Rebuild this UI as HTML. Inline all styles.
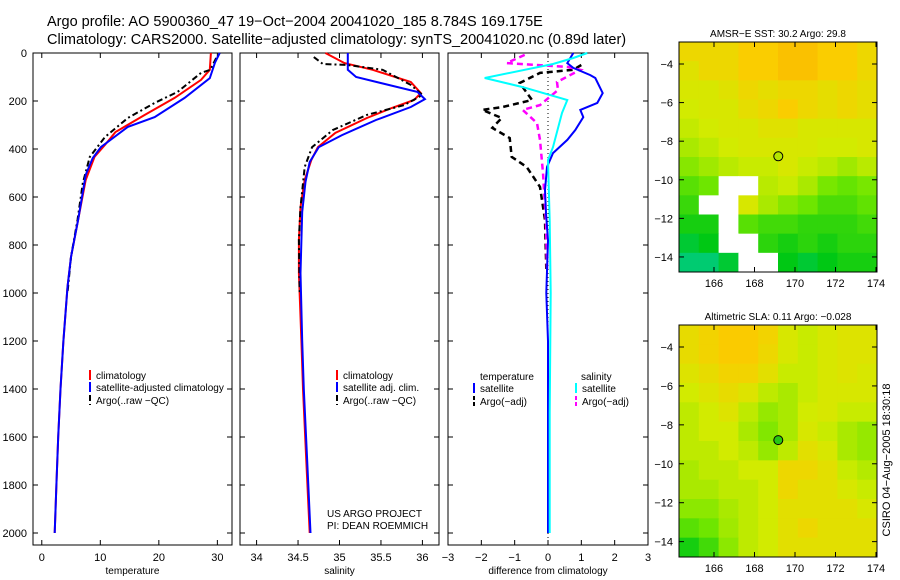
<!DOCTYPE html>
<html><head><meta charset="utf-8"><style>
body{margin:0;background:#fff;}
svg{display:block;font-family:"Liberation Sans",sans-serif;}
</style></head><body>
<svg id="c" width="900" height="580" xmlns="http://www.w3.org/2000/svg">
<rect width="900" height="580" fill="#fff"/>
<text x="47" y="26" font-size="14.5">Argo profile: AO 5900360_47 19−Oct−2004 20041020_185 8.784S 169.175E</text>
<text x="47" y="44" font-size="14.5">Climatology: CARS2000. Satellite−adjusted climatology: synTS_20041020.nc (0.89d later)</text>
<text x="890" y="460" font-size="11" transform="rotate(-90 890 460)" text-anchor="middle">CSIRO 04−Aug−2005 18:30:18</text>
<g id="plots"></g>
</svg>
<script>
// ---- data ----
const depthTicks=[0,200,400,600,800,1000,1200,1400,1600,1800,2000];
const tempTicks=[0,10,20,30];
const salTicks=[34,34.5,35,35.5,36];
const diffTicks=[-3,-2,-1,0,1,2,3];
// temperature
const tClimD=[0,70,112,187,258,329,383,433,529,696,850,975,1200,1400,1600,1800,2000];
const tClimV=[28.9,28.7,27.2,22.7,17.6,12.6,10.8,9.0,7.5,6.2,5.0,4.4,3.7,3.2,2.8,2.5,2.2];
const tSatD=[0,40,105,187,267,308,392,438,508,696,850,975,1200,1400,1600,1800,2000];
const tSatV=[30.4,29.6,28.7,24.4,19.3,14.7,10.1,8.7,7.5,6.2,5.0,4.4,3.7,3.2,2.8,2.5,2.2];
const tArgD=[21,70,83,162,208,271,350,433,542,696,850,1000];
const tArgV=[29.8,28.8,27.2,23.2,19.3,14.7,10.8,8.2,7.0,6.1,5.0,4.4];
// salinity
const sClimD=[0,42,70,121,167,196,229,271,333,392,446,529,642,779,917,1200,1400,1700,2000];
const sClimV=[34.83,35.06,35.4,35.86,35.98,35.9,35.63,35.33,34.95,34.74,34.66,34.58,34.53,34.51,34.51,34.54,34.56,34.6,34.64];
const sSatD=[0,70,100,162,192,225,279,342,392,454,537,662,917,1200,1400,1700,2000];
const sSatV=[35.1,35.1,35.2,35.94,36.03,35.86,35.44,35.03,34.75,34.64,34.59,34.55,34.53,34.55,34.57,34.61,34.65];
const sArgD=[17,46,50,70,133,175,217,258,321,392,475,642,779,1000];
const sArgV=[34.69,34.8,35.1,35.52,35.86,36.0,35.78,35.33,34.92,34.67,34.58,34.53,34.51,34.52];
// differences
const dTSatD=[0,42,62,92,104,167,208,237,267,321,362,417,475,571,667,779,1000,1200,1500,2000];
const dTSatV=[0.76,0.58,0.76,1.27,1.42,1.64,1.48,0.97,1.06,0.82,0.58,0.15,-0.03,-0.09,-0.06,0.0,-0.05,0.0,0.0,0.0];
const dSSatD=[0,21,46,104,142,196,250,392,446,700,1000,1500,2000];
const dSSatV=[1.18,0.76,0.15,-1.9,-0.76,0.58,0.42,0.15,0.0,0.05,0.08,0.05,0.05];
const dTArgD=[50,70,83,125,196,225,237,271,312,354,433,475,558,696,900];
const dTArgV=[1.0,0.76,-0.24,-0.85,-0.48,-1.36,-1.97,-1.39,-1.67,-1.15,-1.09,-0.64,-0.24,-0.09,-0.05];
const dSArgD=[8,42,58,70,121,154,217,237,292,362,500,708,900];
const dSArgV=[-0.7,-1.24,0.58,0.97,0.27,0.3,-0.24,-0.76,-0.33,-0.24,-0.15,-0.06,-0.03];
// maps (value 0..1 on colour ramp, -1 = no data)
const lonTicks=[166,168,170,172,174];
const latTicks=[-4,-6,-8,-10,-12,-14];
const sstGrid=[
[.8,.8,.8,.85,.85,.9,.9,.85,.85,.8],
[.75,.8,.8,.85,.85,.9,.9,.85,.85,.8],
[.72,.72,.75,.8,.77,.8,.8,.77,.8,.77],
[.7,.72,.72,.77,.8,.85,.8,.77,.8,.77],
[.67,.7,.72,.72,.75,.75,.72,.72,.72,.72],
[.62,.66,.7,.72,.72,.72,.72,.7,.7,.72],
[.55,.6,.65,.68,.68,.72,.68,.65,.6,.65],
[.45,.5,-1,-1,.65,.68,.62,.52,.48,.52],
[.38,-1,-1,.72,.62,.55,.5,.42,.42,.47],
[.3,.3,-1,.45,.4,.4,.36,.36,.36,.4],
[.2,.25,-1,-1,.35,.3,.35,.3,.35,.35],
[.1,.1,.2,-1,-1,.25,.2,.25,.3,.3]];
const slaGrid=[
[.78,.82,.86,.86,.82,.72,.68,.72,.74,.74],
[.78,.82,.86,.86,.8,.72,.68,.72,.74,.74],
[.74,.78,.82,.82,.76,.68,.68,.72,.74,.72],
[.7,.74,.78,.74,.66,.62,.68,.72,.72,.72],
[.66,.7,.74,.66,.58,.62,.7,.72,.68,.68],
[.66,.7,.7,.62,.54,.62,.72,.68,.62,.58],
[.66,.66,.7,.66,.58,.66,.76,.72,.62,.58],
[.62,.66,.66,.7,.7,.8,.8,.76,.68,.64],
[.62,.62,.66,.66,.7,.8,.76,.76,.72,.68],
[.56,.56,.62,.66,.7,.76,.76,.76,.76,.72],
[.45,.5,.6,.66,.7,.76,.8,.76,.76,.76],
[.3,.4,.56,.66,.7,.76,.76,.76,.76,.76]];
const floatLon=169.175, floatLat=-8.784;

const NS="http://www.w3.org/2000/svg";
const root=document.getElementById('plots');
function mk(tag,attrs,parent){const e=document.createElementNS(NS,tag);for(const k in attrs)e.setAttribute(k,attrs[k]);(parent||root).appendChild(e);return e;}
function txt(x,y,s,size,anchor,parent){const t=mk('text',{x:x,y:y,'font-size':size||11,'text-anchor':anchor||'start'},parent);t.textContent=s;return t;}
const yD=d=>53+d*48/200;

function panel(name,left,right,xmin,xmax,xticks,xlabel,tickFmt){
  const g=mk('g',{});
  
  
  const sx=v=>left+(v-xmin)*(right-left)/(xmax-xmin);
  const fr=mk('rect',{x:left,y:53,width:right-left,height:492,fill:'none',stroke:'#000','stroke-width':1},g);
  
  
  xticks.forEach(v=>{const x=sx(v);
    mk('line',{x1:x,x2:x,y1:545,y2:540,stroke:'#000'},g);mk('line',{x1:x,x2:x,y1:53,y2:58,stroke:'#000'},g);
    const t=txt(x,561,tickFmt(v),11,'middle',g);
    
    });
  depthTicks.forEach(d=>{const y=yD(d);
    mk('line',{x1:left,x2:left+5,y1:y,y2:y,stroke:'#000'},g);mk('line',{x1:right,x2:right-5,y1:y,y2:y,stroke:'#000'},g);});
  const xl=txt((left+right)/2,574,xlabel,10,'middle',g);
  
  
  return {g,sx};
}
function series(p,D,V,color,dash,name,w){
  const pts=D.map((d,i)=>p.sx(V[i]).toFixed(1)+','+yD(d).toFixed(1)).join(' ');
  const l=mk('polyline',{points:pts,fill:'none',stroke:color,'stroke-width':w||2,'stroke-dasharray':dash||'none'},p.g);
  
  
}
function legend(p,x,y,color,label,dash){
  const l=mk('line',{x1:x,x2:x,y1:y-9,y2:y+1,stroke:color,'stroke-width':2,'stroke-dasharray':dash||'none'},p.g);
  
  
  const t=txt(x+6,y,label,10,'start',p.g);
  
  
}
const AD='6,3,2,3';
depthTicks.forEach(d=>{const t=txt(27,yD(d)+4,String(d),11,'end');
  
  });

const p1=panel('temperature-panel',33,232,-1.5,32.5,tempTicks,'temperature',v=>String(v));
series(p1,tClimD,tClimV,'#f00',null,'temp-climatology');
series(p1,tArgD,tArgV,'#000',AD,'temp-argo');
series(p1,tSatD,tSatV,'#00f',null,'temp-satellite');
legend(p1,90,379,'#f00','climatology');legend(p1,90,391,'#00f','satellite-adjusted climatology');legend(p1,90,404,'#000','Argo(..raw −QC)',AD);

const p2=panel('salinity-panel',240,439,33.8,36.2,salTicks,'salinity',v=>String(v));
series(p2,sClimD,sClimV,'#f00',null,'sal-climatology');
series(p2,sArgD,sArgV,'#000',AD,'sal-argo');
series(p2,sSatD,sSatV,'#00f',null,'sal-satellite');
legend(p2,337,379,'#f00','climatology');legend(p2,337,391,'#00f','satellite adj. clim.');legend(p2,337,404,'#000','Argo(..raw −QC)',AD);
const c1=txt(327,517,'US ARGO PROJECT',10,'start',p2.g);
const c2=txt(327,529,'PI: DEAN ROEMMICH',10,'start',p2.g);

const p3=panel('difference-panel',448,648,-3,3,diffTicks,'difference from climatology',v=>v<0?'−'+(-v):String(v));
const zl=mk('line',{x1:p3.sx(0),x2:p3.sx(0),y1:53,y2:545,stroke:'#000','stroke-dasharray':'1,3'},p3.g);

series(p3,dTArgD,dTArgV,'#000','6,4','diff-temp-argo',2.5);
series(p3,dSArgD,dSArgV,'#f0f','6,4','diff-sal-argo',2.5);
series(p3,dTSatD,dTSatV,'#00f',null,'diff-temp-satellite');
series(p3,dSSatD,dSSatV,'#0ff',null,'diff-sal-satellite');
txt(480,380,'temperature',10,'start',p3.g);
txt(581,380,'salinity',10,'start',p3.g);
legend(p3,474,392,'#00f','satellite');legend(p3,474,405,'#000','Argo(−adj)','4,2');
legend(p3,576,392,'#0ff','satellite');legend(p3,576,405,'#f0f','Argo(−adj)','4,2');

// maps
const ramp=[[0,[0,205,175]],[.25,[0,200,20]],[.5,[110,230,0]],[.7,[210,235,0]],[.85,[250,205,0]],[1,[250,170,0]]];
function col(v){if(v<0)return '#fff';for(let i=1;i<ramp.length;i++){if(v<=ramp[i][0]){const a=ramp[i-1],b=ramp[i],t=(v-a[0])/(b[0]-a[0]);const c=a[1].map((x,k)=>Math.round(x+(b[1][k]-x)*t));return 'rgb('+c+')';}}return 'rgb(250,170,0)';}
function map(name,top,bottom,grid,title,dotFill){
  const g=mk('g',{});
  
  
  const L=679,R=877;
  const sx=lon=>714+(lon-166)*20.25;
  const latScale=(bottom-top)/11.92;
  const y4=top+22;
  const sy=lat=>y4+(-4-lat)*latScale;
  const rows=grid.length,cols=grid[0].length,cw=(R-L)/cols,ch=(bottom-top)/rows;
  grid.forEach((row,r)=>row.forEach((v,c)=>{
    const cell=mk('rect',{x:L+c*cw,y:top+r*ch,width:cw+0.5,height:ch+0.5,fill:col(v)},g);
    
    
  }));
  mk('rect',{x:L,y:top,width:R-L,height:bottom-top,fill:'none',stroke:'#000'},g);
  lonTicks.forEach(v=>{const x=sx(v);mk('line',{x1:x,x2:x,y1:bottom,y2:bottom-5,stroke:'#000'},g);mk('line',{x1:x,x2:x,y1:top,y2:top+5,stroke:'#000'},g);
    const t=txt(x,bottom+15,String(v),11,'middle',g);});
  latTicks.forEach(v=>{const y=sy(v);mk('line',{x1:L,x2:L+5,y1:y,y2:y,stroke:'#000'},g);mk('line',{x1:R,x2:R-5,y1:y,y2:y,stroke:'#000'},g);
    const t=txt(L-6,y+4,'−'+(-v),11,'end',g);});
  const tt=txt((L+R)/2,top-5,title,10,'middle',g);
  const dot=mk('circle',{cx:sx(floatLon),cy:sy(floatLat),r:4.5,fill:dotFill,stroke:'#000','stroke-width':1},g);
  
}
map('sst-map',42,272,sstGrid,'AMSR−E SST: 30.2 Argo: 29.8','#b4e600');
map('sla-map',325,557,slaGrid,'Altimetric SLA: 0.11 Argo: −0.028','#28c814');
</script>
</body></html>
